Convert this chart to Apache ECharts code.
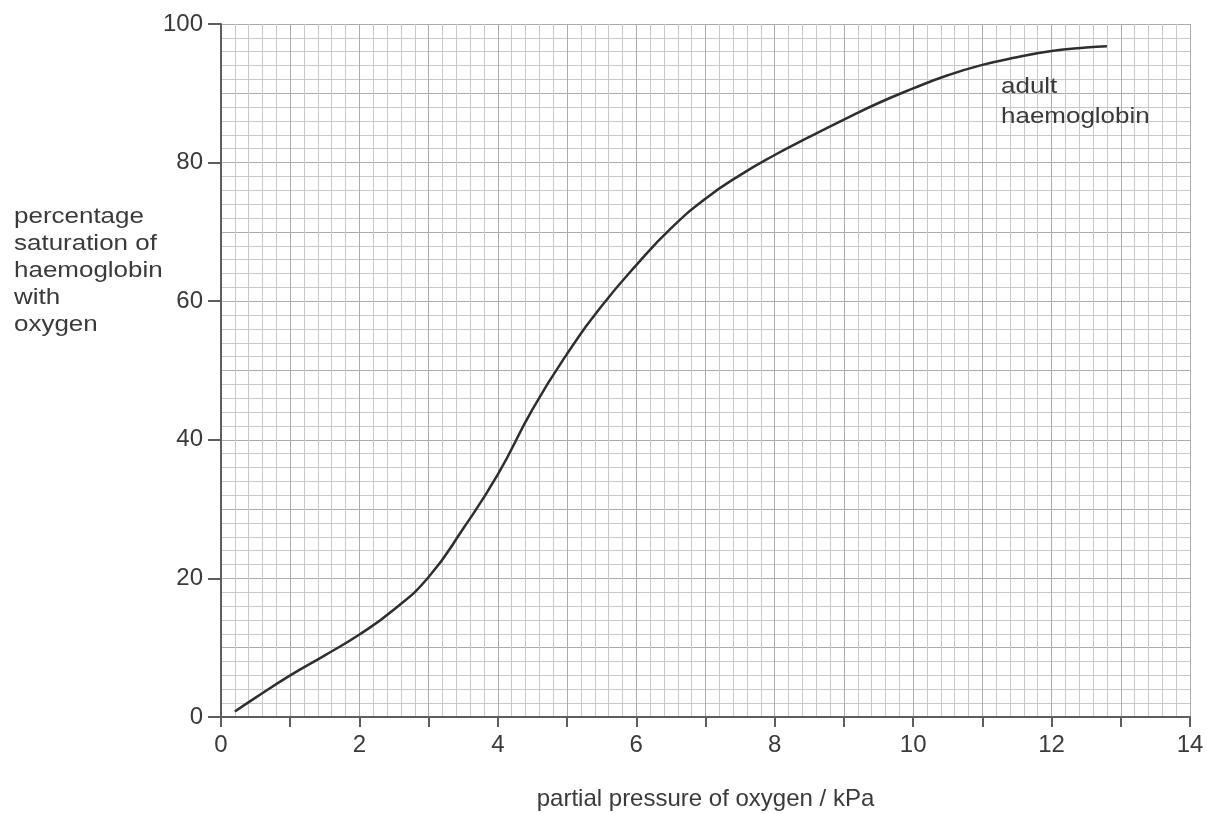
<!DOCTYPE html>
<html>
<head>
<meta charset="utf-8">
<script src="https://cdn.jsdelivr.net/npm/echarts@6/dist/echarts.min.js"></script>
<style>
    html, body { margin: 0; padding: 0; background: #fff; }
    #chart { width: 1207px; height: 814px; }
</style>
</head>
<body>
<div id="chart"></div>
<script>
// partial pressure of oxygen (kPa)
const pressure = [0.2, 0.5, 1, 1.5, 2, 2.5, 3, 3.5, 4, 4.5, 5, 5.5, 6, 6.5, 7, 7.5, 8, 8.5, 9, 9.5, 10, 10.5, 11, 11.5, 12, 12.5, 12.8]
// percentage saturation of haemoglobin with oxygen
const saturation = [0.8, 2.8, 6, 8.9, 11.9, 15.5, 20.2, 27.2, 35, 44.4, 52.4, 59.3, 65.2, 70.5, 74.8, 78.2, 81.1, 83.7, 86.2, 88.6, 90.7, 92.6, 94.1, 95.2, 96.1, 96.6, 96.8]

const xTickLabels = [0, 2, 4, 6, 8, 10, 12, 14]
const yTickLabels = [0, 20, 40, 60, 80, 100]

const yNameLines = ['percentage', 'saturation of', 'haemoglobin', 'with', 'oxygen']
const curveLabel = ['adult', 'haemoglobin']
const xName = 'partial pressure of oxygen / kPa'

!function(){

    const font  = '"Liberation Sans", Arial, sans-serif'
    const ink   = '#3a3a3a'
    const axisC = '#5e5e5e'

    let chart = echarts.init(document.getElementById('chart'), null, {renderer: 'canvas'})

    let option = {
        backgroundColor: '#fff',
        animation: false,
        textStyle: {fontFamily: font},
        grid: {left: 221, top: 24, right: 17, bottom: 97, containLabel: false, outerBoundsMode: 'none'},
        xAxis: {
            type: 'value', min: 0, max: 14, interval: 1,
            name: xName, nameLocation: 'middle', nameGap: 70,
            nameTextStyle: {fontSize: 24, color: ink, fontFamily: font},
            axisLine: {show: true, onZero: false, lineStyle: {color: axisC, width: 2}},
            axisTick: {show: true, inside: false, length: 10, lineStyle: {color: axisC, width: 2}},
            axisLabel: {
                margin: 16, fontSize: 24, color: ink, fontFamily: font,
                formatter: v => xTickLabels.includes(v) ? String(v) : ''
            },
            splitLine: {show: true, lineStyle: {color: '#acacac', width: 1}},
            minorTick: {show: false, splitNumber: 5},
            minorSplitLine: {show: true, lineStyle: {color: '#c9c9c9', width: 1}}
        },
        yAxis: [
            // grid: major every 10, minor every 2
            {
                type: 'value', min: 0, max: 100, interval: 10,
                axisLine: {show: true, onZero: false, lineStyle: {color: axisC, width: 2}},
                axisTick: {show: false},
                axisLabel: {show: false},
                splitLine: {show: true, lineStyle: {color: '#acacac', width: 1}},
                minorTick: {show: false, splitNumber: 5},
                minorSplitLine: {show: true, lineStyle: {color: '#c9c9c9', width: 1}}
            },
            // ticks and labels every 20
            {
                type: 'value', min: 0, max: 100, interval: 20, position: 'left',
                axisLine: {show: false},
                axisTick: {show: true, length: 13, lineStyle: {color: axisC, width: 2}},
                axisLabel: {
                    margin: 18, fontSize: 24, color: ink, fontFamily: font,
                    formatter: v => yTickLabels.includes(v) ? String(v) : ''
                },
                splitLine: {show: false}
            }
        ],
        series: [{
            type: 'line',
            data: pressure.map((p, i) => [p, saturation[i]]),
            smooth: 0.5,
            showSymbol: false,
            symbol: 'none',
            lineStyle: {color: '#2e2e2e', width: 2.5},
            z: 5
        }],
        graphic: [
            {
                type: 'text', left: 14, top: 203, scaleX: 1.18,
                style: {
                    text: yNameLines.join('\n'), font: '22px ' + font,
                    fill: ink, lineHeight: 27
                }
            },
            {
                type: 'text', left: 1001, top: 72, scaleX: 1.18, z: 10,
                style: {
                    text: curveLabel.join('\n'), font: '22px ' + font,
                    fill: ink, lineHeight: 30
                }
            }
        ]
    }

    chart.setOption(option)

}()
</script>
</body>
</html>
